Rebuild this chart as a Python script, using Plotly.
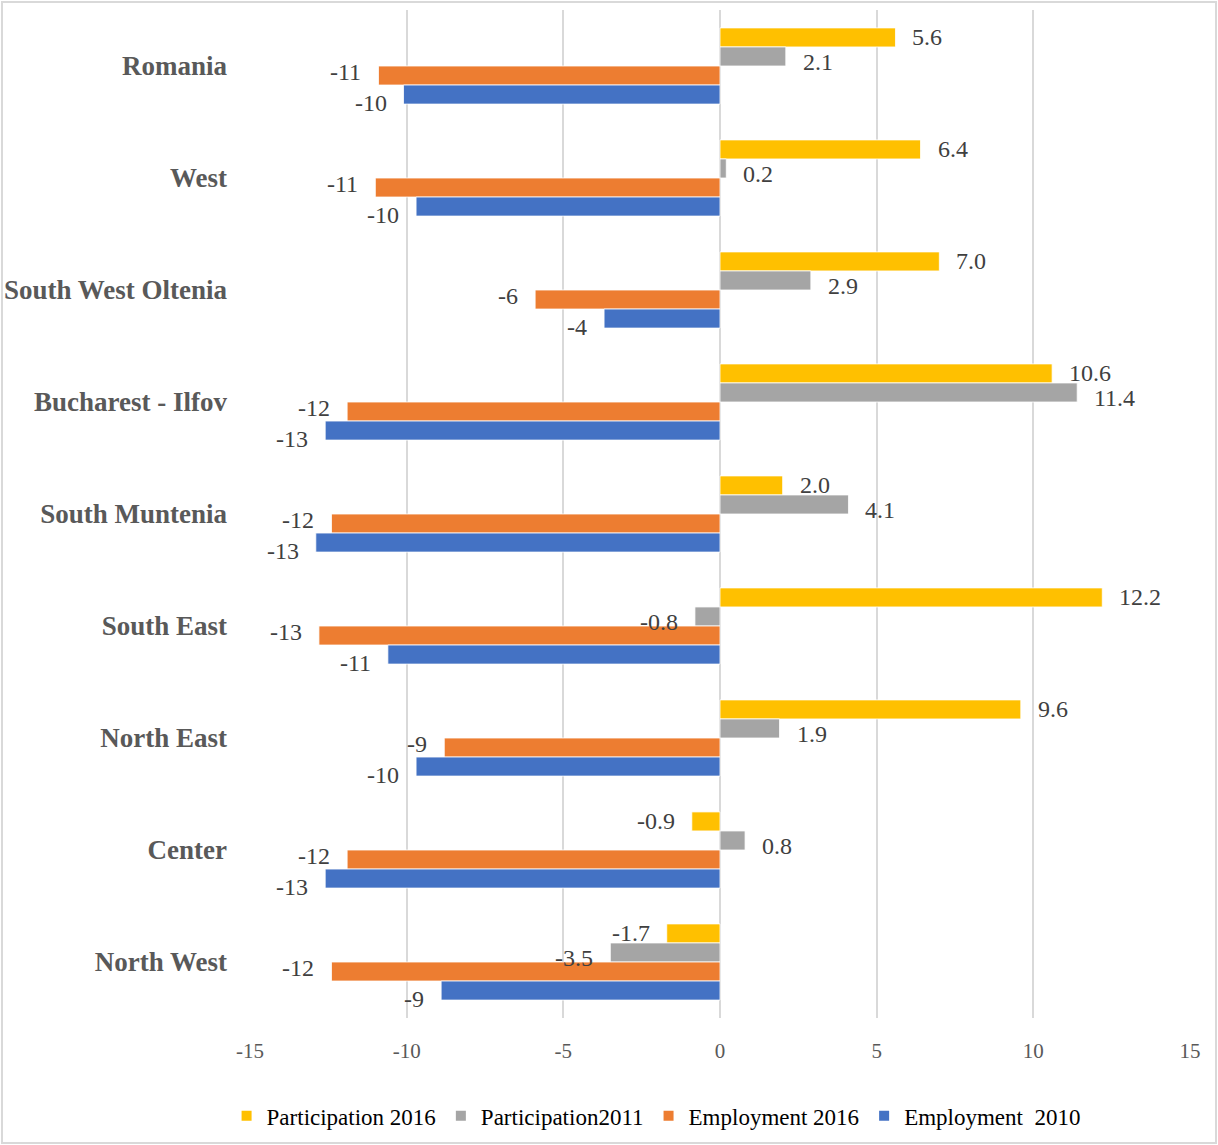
import plotly.graph_objects as go

categories = ["Romania", "West", "South West Oltenia", "Bucharest - Ilfov",
              "South Muntenia", "South East", "North East", "Center", "North West"]
participation_2016 = [5.6, 6.4, 7.0, 10.6, 2.0, 12.2, 9.6, -0.9, -1.7]
participation_2011 = [2.1, 0.2, 2.9, 11.4, 4.1, -0.8, 1.9, 0.8, -3.5]
employment_2016 = [-10.9, -11.0, -5.9, -11.9, -12.4, -12.8, -8.8, -11.9, -12.4]
employment_2010 = [-10.1, -9.7, -3.7, -12.6, -12.9, -10.6, -9.7, -12.6, -8.9]
series_names = ["Participation 2016", "Participation2011", "Employment 2016", "Employment\u00a0\u00a02010"]
x_ticks = [-15, -10, -5, 0, 5, 10, 15]

series = [participation_2016, participation_2011, employment_2016, employment_2010]
colors = ["#FFC000", "#A5A5A5", "#ED7D31", "#4472C4"]
formats = ["{:.1f}", "{:.1f}", "{:.0f}", "{:.0f}"]
label_yshift = [0, -6, 4, -8]  # per-series vertical nudge of data labels (px)

SERIF = "Liberation Serif, Times New Roman, serif"
BARGAP = 0.32

fig = go.Figure()
for name, vals, col in zip(series_names, series, colors):
    fig.add_trace(go.Bar(
        y=categories, x=vals, name=name, orientation="h",
        marker=dict(color=col, line=dict(color="white", width=0.8)),
        hoverinfo="x+y",
    ))

# data labels
n = len(series)
bw = (1 - BARGAP) / n
annotations = []
for i, (vals, fmt) in enumerate(zip(series, formats)):
    off = -(1 - BARGAP) / 2 + bw * (i + 0.5)
    for j, v in enumerate(vals):
        txt = fmt.format(v)
        annotations.append(dict(
            x=v, y=j + off, xref="x", yref="y", text=txt, showarrow=False,
            xanchor="left" if v >= 0 else "right", yanchor="middle",
            xshift=15 if v >= 0 else -15, yshift=label_yshift[i],
            font=dict(family=SERIF, size=24, color="#404040"),
        ))

fig.update_layout(
    width=1218, height=1145,
    margin=dict(l=250, r=28, t=10, b=127, autoexpand=False),
    paper_bgcolor="white", plot_bgcolor="white",
    barmode="group", bargap=BARGAP, bargroupgap=0,
    annotations=annotations,
    showlegend=True,
    legend=dict(orientation="h", x=0.432, xanchor="center", y=-0.097, yanchor="middle",
                font=dict(family=SERIF, size=23, color="#000000"),
                itemsizing="constant", traceorder="normal", itemwidth=30),
    xaxis=dict(range=[-15, 15], tickvals=x_ticks, ticktext=[str(t) for t in x_ticks],
               showgrid=True, gridcolor="#D9D9D9", gridwidth=1.5,
               zeroline=True, zerolinecolor="#D9D9D9", zerolinewidth=1.5,
               showline=False, ticks="", ticklabelstandoff=18, automargin=False,
               tickfont=dict(family=SERIF, size=21, color="#595959")),
    yaxis=dict(autorange="reversed", showgrid=False, showline=False, ticks="",
               ticklabelstandoff=22, automargin=False,
               tickfont=dict(family=SERIF, size=27, color="#595959", weight="bold")),
    shapes=[dict(type="rect", xref="paper", yref="paper",
                 x0=(2 - 250) / 940, x1=(1216 - 250) / 940,
                 y0=-(1143 - 1018) / 1008, y1=1 + 8 / 1008,
                 line=dict(color="#D9D9D9", width=2), fillcolor="rgba(0,0,0,0)", layer="below")],
)

fig.write_html("out.html")
